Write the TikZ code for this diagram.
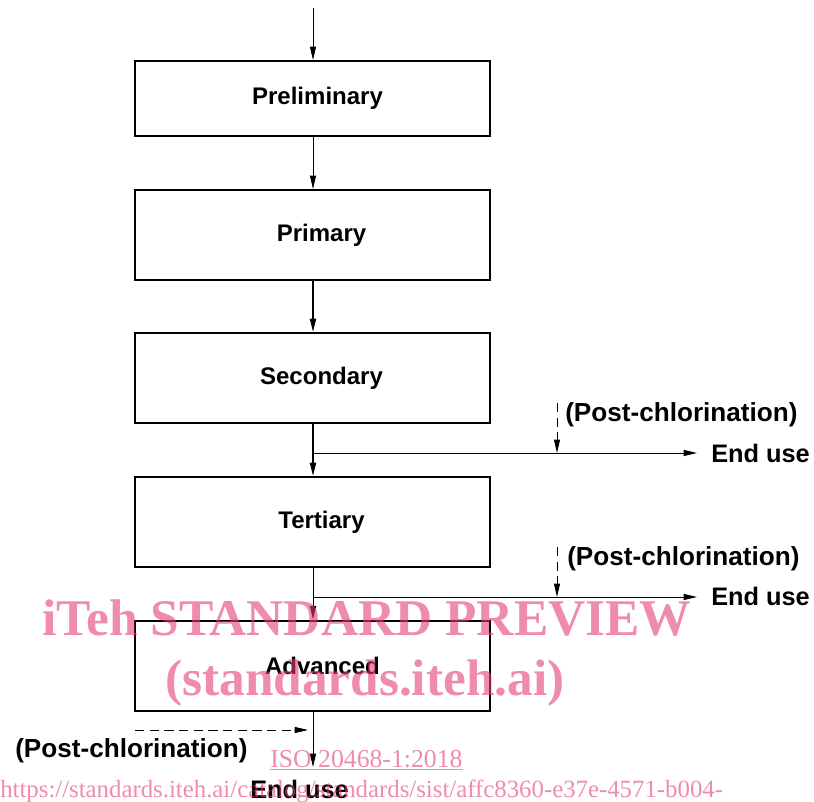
\documentclass[tikz,border=0pt]{standalone}
\usepackage{fontspec}
\setmainfont{Liberation Sans}
\newfontfamily\wmfont{Liberation Serif}
\usetikzlibrary{arrows.meta}
\definecolor{wmpink}{RGB}{227,63,113}
\tikzset{
  x=0.75pt, y=-0.75pt,
  procbox/.style={draw, line width=1.5pt, minimum width=266.25pt, minimum height=67.5pt, inner sep=0pt, font=\fontsize{18}{20}\selectfont\bfseries},
  lbl/.style={inner sep=0pt, font=\fontsize{19}{20}\selectfont\bfseries},
  pclbl/.style={inner sep=0pt, font=\fontsize{19.6}{20}\selectfont\bfseries},
  tip/.style={-{Triangle[length=10pt,width=4.5pt]}},
  flow/.style={tip, line width=0.75pt},
  thickflow/.style={tip, line width=1.4pt},
  dashflow/.style={tip, line width=0.75pt, dash pattern=on 7pt off 4pt},
  wm/.style={inner sep=0pt, text=wmpink, opacity=0.6, text opacity=0.6},
}
\begin{document}
\begin{tikzpicture}
\useasboundingbox (0,0) rectangle (814,802);
% boxes
\node[procbox, minimum height=56.25pt] (prelim) at (312.5,98.5) {\hspace*{7.5pt}Preliminary};
\node[procbox] (primary) at (312.5,235) {\hspace*{13.5pt}Primary};
\node[procbox] (secondary) at (312.5,378) {\hspace*{13.5pt}Secondary};
\node[procbox] (tertiary) at (312.5,522) {\hspace*{13.5pt}Tertiary};
\node[procbox] (advanced) at (312.5,665.5) {\hspace*{15pt}Advanced};
% coordinates
\coordinate (in) at (313,8);
\coordinate (b1) at (313,453);
\coordinate (e1) at (697,453);
\coordinate (d1s) at (557,403);
\coordinate (d1e) at (557,453);
\coordinate (b2) at (313,597);
\coordinate (e2) at (697,597);
\coordinate (d2s) at (557,547);
\coordinate (d2e) at (557,597);
\coordinate (e3) at (313,767);
\coordinate (d3s) at (135,730);
\coordinate (d3e) at (308,730);
% main flow
\draw[flow] (in) -- (prelim.north -| in);
\draw[flow] (prelim.south -| in) -- (primary.north -| in);
\draw[thickflow] (primary.south -| in) -- (secondary.north -| in);
\draw[thickflow] (secondary.south -| in) -- (tertiary.north -| in);
\draw[flow] (tertiary.south -| in) -- (advanced.north -| in);
\draw[flow] (advanced.south -| in) -- (e3);
% branches
\draw[flow] (b1) -- (e1);
\draw[dashflow] (d1s) -- (d1e);
\draw[flow] (b2) -- (e2);
\draw[dashflow] (d2s) -- (d2e);
\draw[dashflow] (d3s) -- (d3e);
% labels
\node[pclbl, anchor=base west] (pc1) at (565,421) {(Post-chlorination)};
\node[lbl, anchor=base west] (eu1) at (711,462) {End use};
\node[pclbl, anchor=base west] (pc2) at (567,565) {(Post-chlorination)};
\node[lbl, anchor=base west] (eu2) at (711,605) {End use};
\node[pclbl, anchor=base west] (pc3) at (15,757) {(Post-chlorination)};
\node[lbl, anchor=base west] (eu3) at (250,798) {End use};
% watermark
\node[wm, anchor=base west, font=\wmfont\fontsize{38.6}{40}\selectfont\bfseries] (wm1) at (42,635) {iTeh STANDARD PREVIEW};
\node[wm, anchor=base west, font=\wmfont\fontsize{38.5}{40}\selectfont\bfseries] (wm2) at (165,695) {(standards.iteh.ai)};
\node[wm, anchor=base west, font=\wmfont\fontsize{19.3}{20}\selectfont] (wm3) at (270,767) {\underline{ISO 20468-1:2018}};
\node[wm, anchor=base west, font=\wmfont\fontsize{18.6}{20}\selectfont] (wm4) at (0,797) {https://standards.iteh.ai/catalog/standards/sist/affc8360-e37e-4571-b004-};
\end{tikzpicture}
\end{document}
